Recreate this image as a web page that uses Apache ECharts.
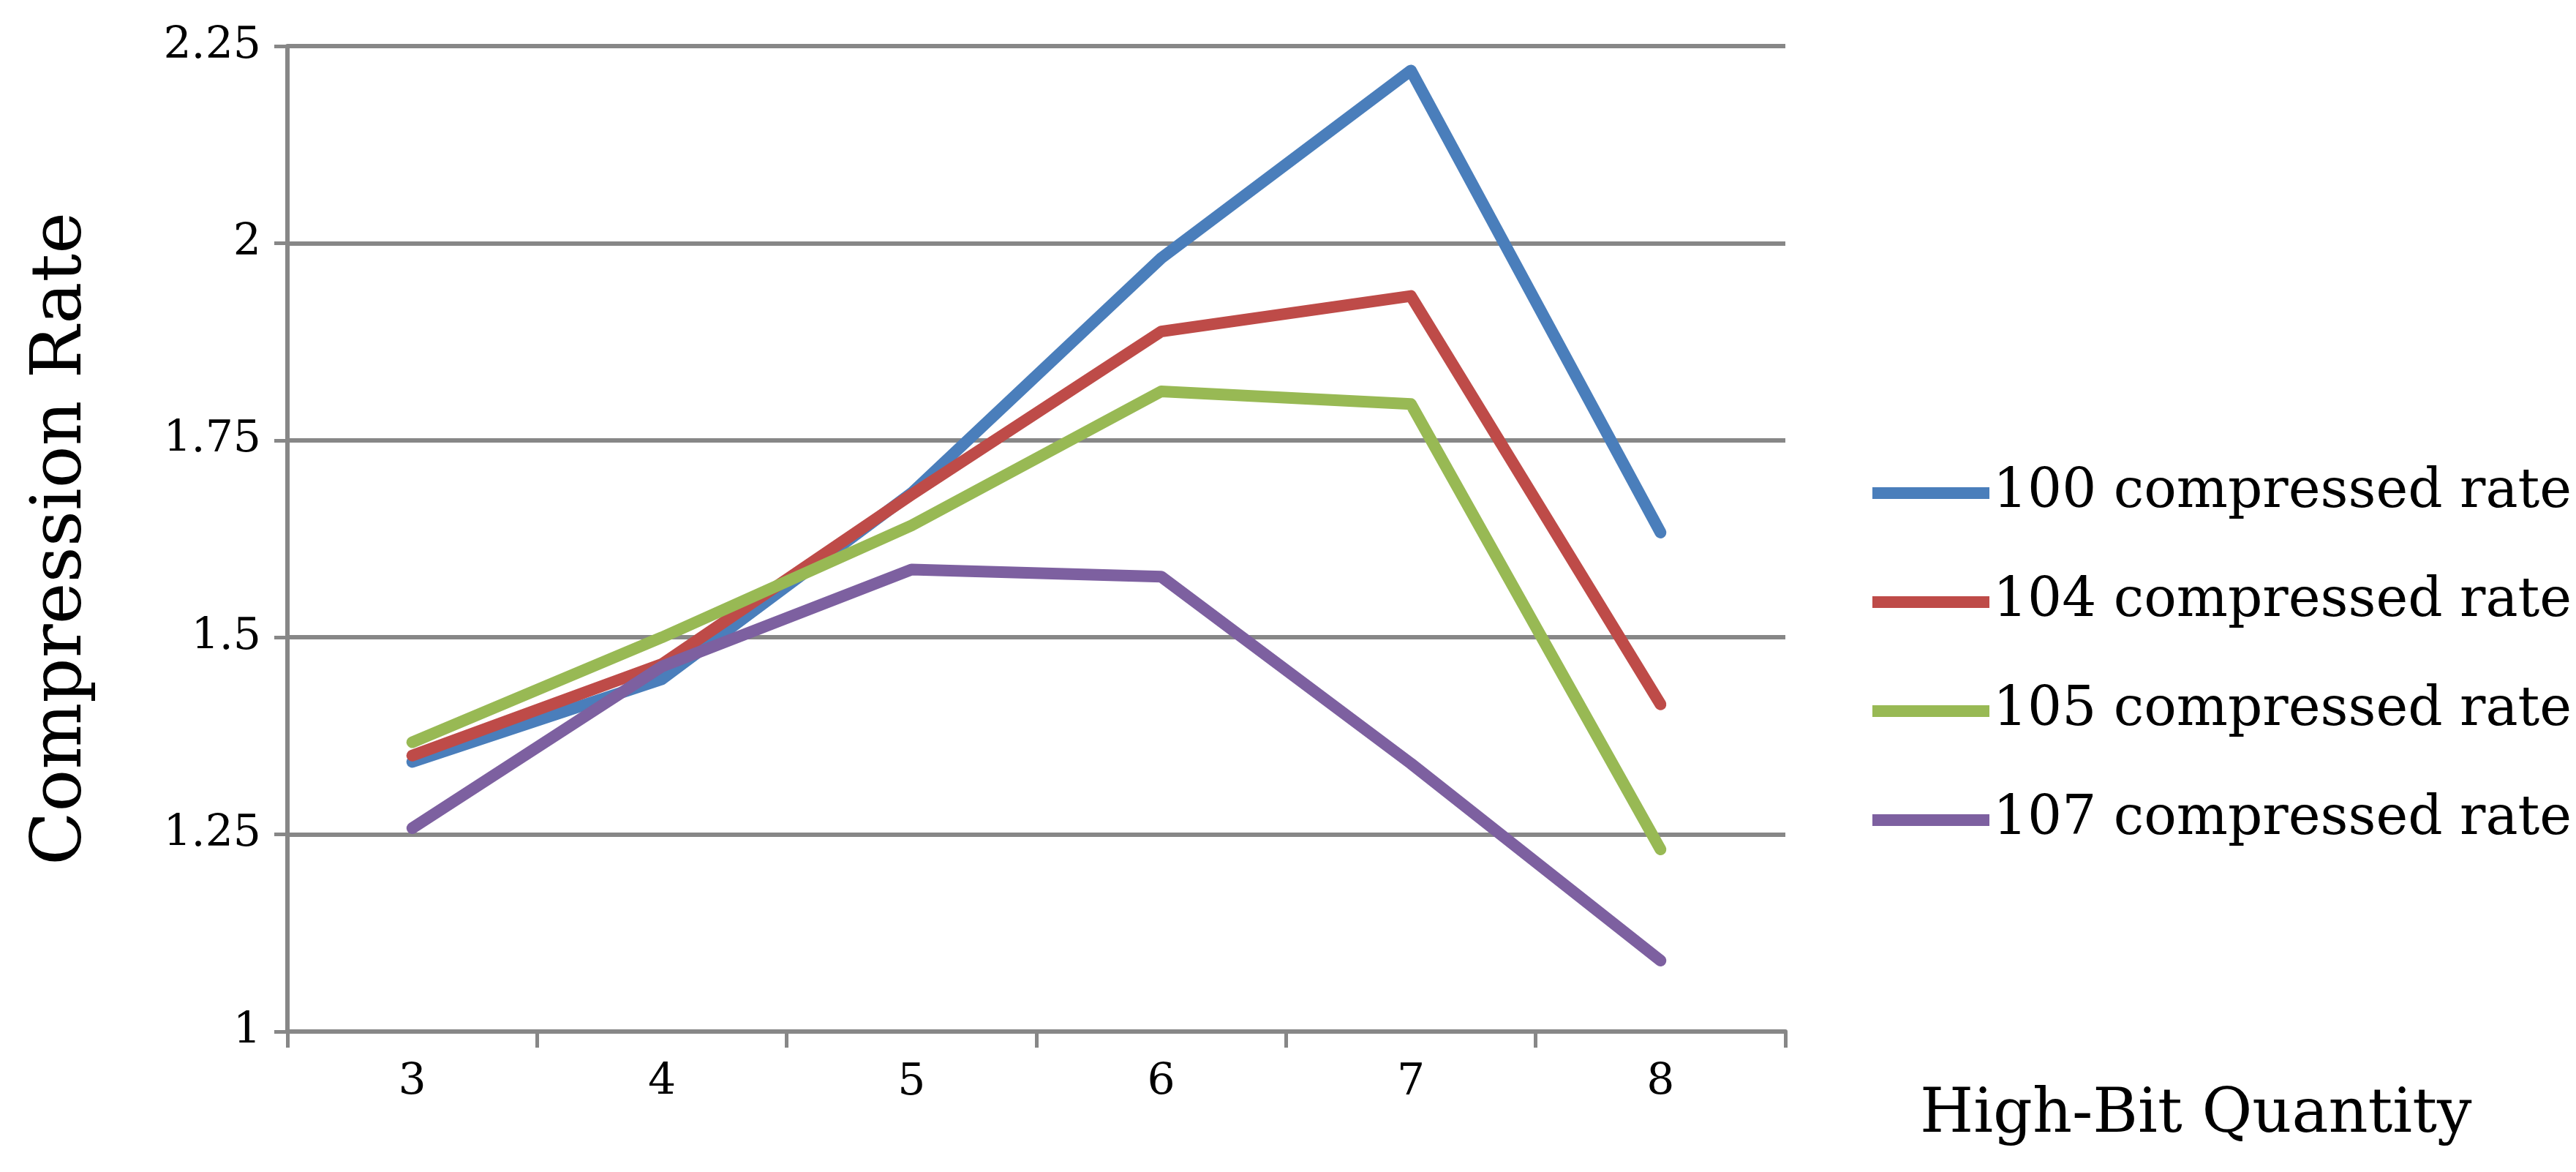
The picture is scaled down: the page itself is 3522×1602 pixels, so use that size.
<!DOCTYPE html>
<html>
<head>
<meta charset="utf-8">
<script src="https://cdn.jsdelivr.net/npm/echarts@6/dist/echarts.min.js"></script>
<style>html,body{margin:0;padding:0;background:#fff}#main{width:3522px;height:1602px}</style>
</head>
<body>
<div id="main"></div>
<script>
var categories = ['3', '4', '5', '6', '7', '8'];
var names = ['100 compressed rate', '104 compressed rate', '105 compressed rate', '107 compressed rate'];
var s100 = [1.342, 1.447, 1.683, 1.981, 2.219, 1.633];
var s104 = [1.350, 1.466, 1.681, 1.888, 1.933, 1.415];
var s105 = [1.367, 1.500, 1.642, 1.812, 1.796, 1.231];
var s107 = [1.258, 1.463, 1.586, 1.577, 1.340, 1.090];
var colors = ['#4a7ebb', '#be4b48', '#98b954', '#7d60a0'];

var myChart = echarts.init(document.getElementById('main'));
var font = 'DejaVu Serif';

function mk(i, data) {
    return {
        name: names[i],
        type: 'line',
        data: data,
        symbol: 'none',
        lineStyle: { width: 16, color: colors[i], cap: 'round', join: 'round' },
        itemStyle: { color: colors[i] }
    };
}

option = {
    animation: false,
    color: colors,
    title: {
        text: 'High-Bit Quantity',
        left: 2620,
        top: 1478,
        textStyle: { fontFamily: font, fontSize: 84, fontWeight: 'normal', color: '#000' }
    },
    grid: { left: 393, right: 3522 - 2441, top: 63, bottom: 1602 - 1410 },
    legend: {
        orient: 'vertical',
        left: 2555,
        top: 629,
        itemWidth: 160,
        itemHeight: 16,
        itemGap: 69,
        icon: 'rect',
        textStyle: { fontFamily: font, fontSize: 74, lineHeight: 80, color: '#000' },
        data: names
    },
    xAxis: [{
        type: 'category',
        data: categories,
        axisLine: { lineStyle: { color: '#878787', width: 6 } },
        axisTick: { show: true, length: 22, lineStyle: { color: '#878787', width: 5 } },
        axisLabel: { fontFamily: font, fontSize: 60, color: '#000', margin: 40 }
    }],
    yAxis: [{
        type: 'value',
        min: 1,
        max: 2.25,
        interval: 0.25,
        name: 'Compression Rate',
        nameLocation: 'middle',
        nameGap: 260,
        nameTextStyle: { fontFamily: font, fontSize: 96, color: '#000' },
        axisLine: { show: true, lineStyle: { color: '#878787', width: 6 } },
        axisTick: { show: true, length: 18, lineStyle: { color: '#878787', width: 5 } },
        splitLine: { lineStyle: { color: '#878787', width: 6 } },
        axisLabel: { fontFamily: font, fontSize: 60, color: '#000', margin: 36 }
    }],
    series: [mk(0, s100), mk(1, s104), mk(2, s105), mk(3, s107)]
};

myChart.setOption(option);
</script>
</body>
</html>
